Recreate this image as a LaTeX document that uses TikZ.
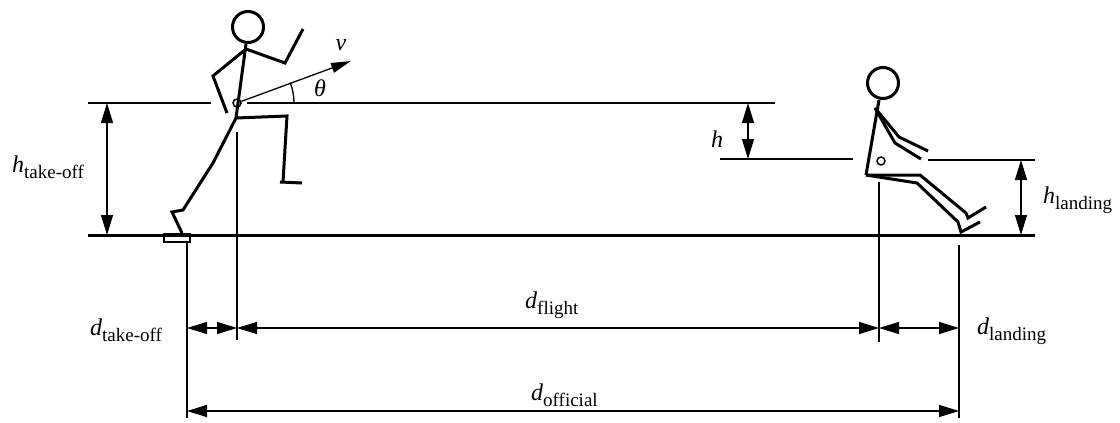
\documentclass[tikz,border=0pt]{standalone}
\usepackage{fontspec}
\setmainfont{Liberation Serif}
\usetikzlibrary{arrows.meta}
% symbol with an upright subscript
\newcommand{\symlab}[2]{{\fontsize{24}{24}\selectfont\itshape #1}\raisebox{-6.5pt}{\fontsize{19}{19}\selectfont #2}}
\tikzset{
  thin/.style={line width=1.3pt},
  fig/.style={line width=3pt},
  dimarrow/.style={thin, {Triangle[length=20pt,width=12pt]}-{Triangle[length=20pt,width=12pt]}},
  lab/.style={inner sep=0pt, anchor=base west},
  headc/.style={circle, draw, fig, inner sep=0pt, minimum size=31pt},
  hipc/.style={circle, draw, line width=1.5pt, inner sep=0pt, minimum size=8pt},
}
\begin{document}
\begin{tikzpicture}[x=1pt,y=-1pt]
\useasboundingbox (0,0) rectangle (1120,423);

% ground
\coordinate (g1) at (88,235);
\coordinate (g2) at (1035,235);
\draw[line width=3pt] (g1) -- (g2);

% reference levels
\coordinate (t1) at (88,103);   \coordinate (t2) at (211,103);
\coordinate (t3) at (247,103);  \coordinate (t4) at (775,103);
\coordinate (l1) at (720,159);  \coordinate (l2) at (853,159);
\coordinate (l3) at (928,160);  \coordinate (l4) at (1035,160);
\draw[thin] (t1) -- (t2);
\draw[thin] (t3) -- (t4);
\draw[thin] (l1) -- (l2);
\draw[thin] (l3) -- (l4);

% take-off athlete
\node[headc] (head1) at (248,27) {};
\node[hipc] (hip1) at (237,103) {};
\coordinate (n1) at (246,44);
\coordinate (s1) at (246,49);
\coordinate (b1) at (236,118);
\draw[fig] (n1) -- (b1);
\draw[fig] (s1) -- (285,63) -- (303,29);
\draw[fig] (s1) -- (213,76) -- (227,113);
\draw[fig] (b1) -- (287,116) -- (283,182);
\draw[fig] (280,182) -- (302,183);
\draw[fig] (b1) -- (213,163) -- (183,210) -- (172,212) -- (182,233);
\node[draw, line width=2pt, minimum width=26pt, minimum height=8pt, inner sep=0pt] (board) at (176.5,238) {};

% velocity and angle
\coordinate (vtip) at (351,61);
\draw[thin, -{Triangle[length=20pt,width=10pt]}] (hip1) -- (vtip);
\draw[thin] (hip1.center) ++(57pt,0pt) arc[start angle=0, end angle=21, radius=57pt];
\node[inner sep=0pt] (v) at (341,45) {\fontsize{24}{24}\selectfont\itshape v};
\node[inner sep=0pt] (theta) at (320,88) {\fontsize{24}{24}\selectfont\itshape θ};

% landing athlete
\node[headc] (head2) at (883,83) {};
\node[hipc] (hip2) at (881,161) {};
\coordinate (n2) at (879,100);
\coordinate (s2) at (875,108);
\coordinate (b2) at (866,175);
\draw[fig] (n2) -- (b2);
\draw[fig] (s2) -- (899,137) -- (928,151);
\draw[fig] (s2) -- (895,143) -- (921,159);
\draw[fig] (b2) -- (920,175) -- (966,213) -- (968,218) -- (986,207);
\draw[fig] (b2) -- (917,183) -- (958,222) -- (961,232) -- (980,222);

% extension lines
\coordinate (e1a) at (237,132); \coordinate (e1b) at (237,340);
\coordinate (e2a) at (187,242); \coordinate (e2b) at (187,418);
\coordinate (e3a) at (879,182); \coordinate (e3b) at (879,342);
\coordinate (e4a) at (959,245); \coordinate (e4b) at (959,418);
\draw[thin] (e1a) -- (e1b);
\draw[thin] (e2a) -- (e2b);
\draw[thin] (e3a) -- (e3b);
\draw[thin] (e4a) -- (e4b);

% vertical dimensions
\coordinate (ha) at (107,103); \coordinate (hb) at (107,235);
\coordinate (hh1) at (748,103); \coordinate (hh2) at (748,159);
\coordinate (hl1) at (1021,160); \coordinate (hl2) at (1021,235);
\draw[dimarrow] (ha) -- (hb);
\draw[dimarrow] (hh1) -- (hh2);
\draw[dimarrow] (hl1) -- (hl2);

% horizontal dimensions
\coordinate (d1) at (187,328); \coordinate (d2) at (237,328);
\coordinate (d3) at (879,328); \coordinate (d4) at (959,328);
\coordinate (o1) at (187,411); \coordinate (o2) at (959,411);
\draw[dimarrow] (d1) -- (d2);
\draw[dimarrow] (d2) -- (d3);
\draw[dimarrow] (d3) -- (d4);
\draw[dimarrow] (o1) -- (o2);

% labels
\node[lab] (lht) at (12,172) {\symlab{h}{take-off}};
\node[lab] (lh) at (711,147) {\fontsize{24}{24}\selectfont\itshape h};
\node[lab] (lhl) at (1043,203) {\symlab{h}{landing}};
\node[lab] (ldt) at (90,335) {\symlab{d}{take-off}};
\node[lab] (ldf) at (525,308) {\symlab{d}{flight}};
\node[lab] (ldl) at (977,334) {\symlab{d}{landing}};
\node[lab] (ldo) at (531,400) {\symlab{d}{official}};
\end{tikzpicture}
\end{document}
